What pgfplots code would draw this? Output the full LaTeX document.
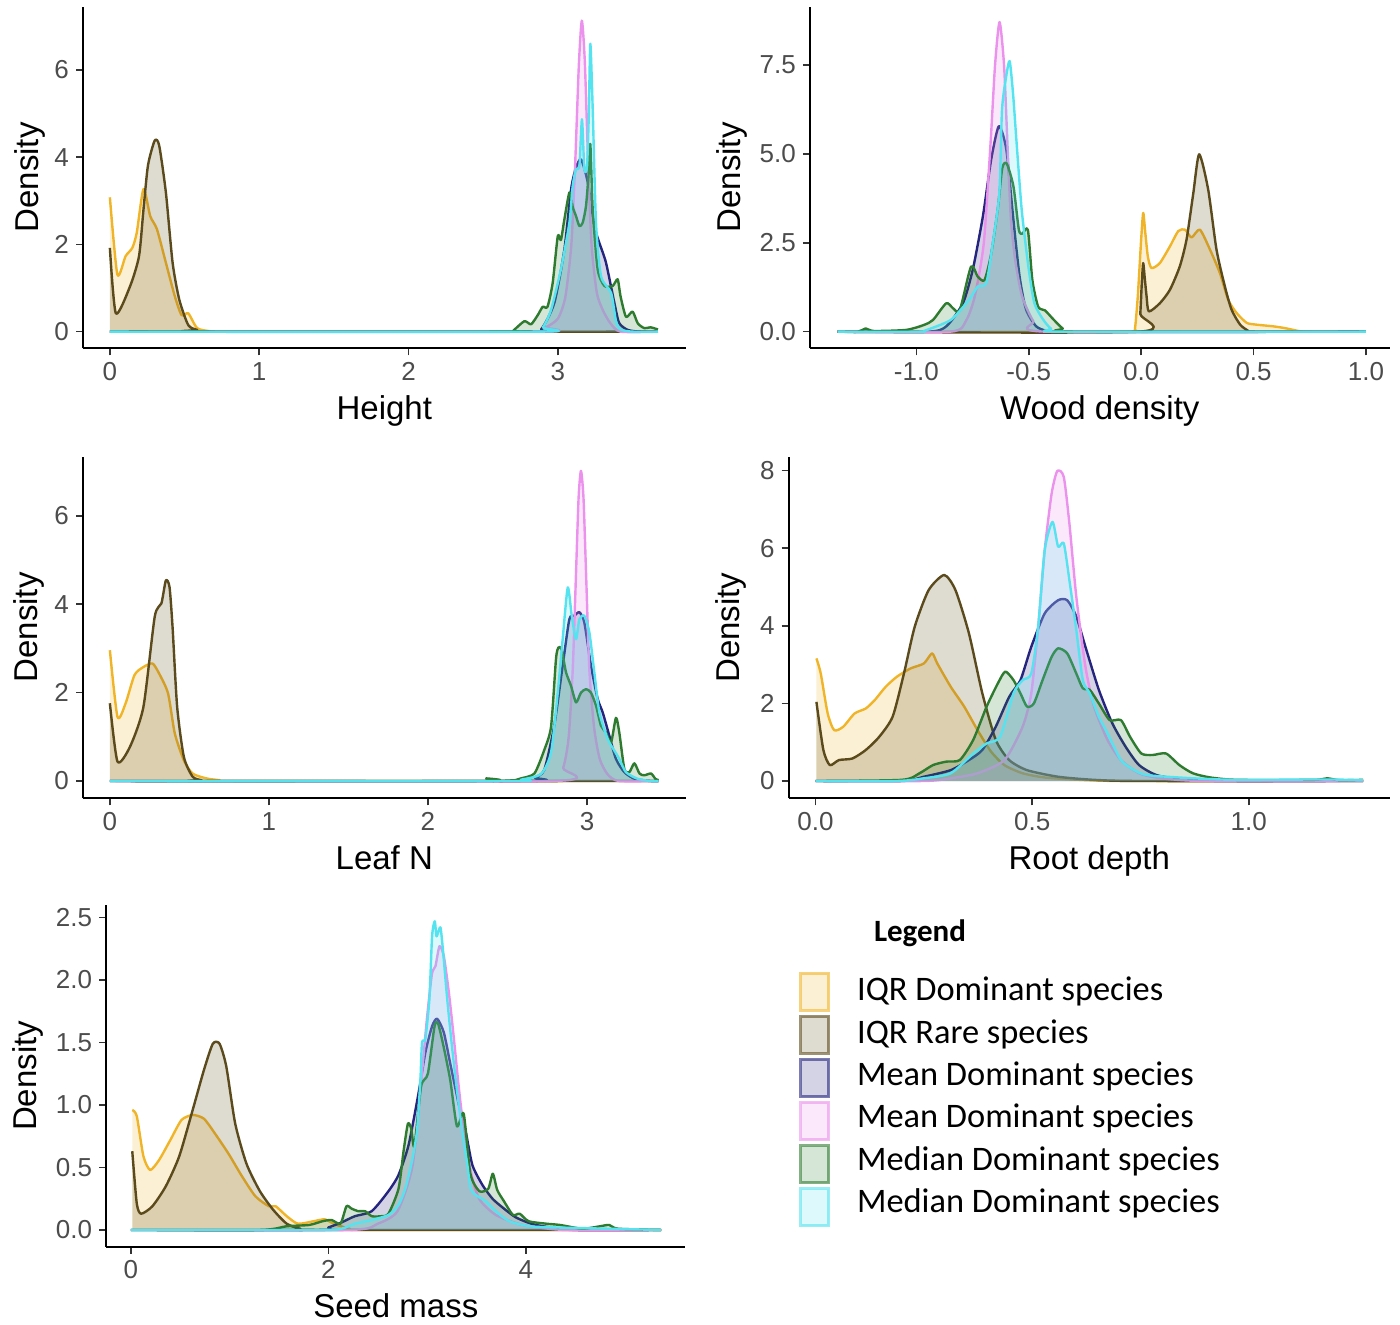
\documentclass[border=0pt]{standalone}
\usepackage{pgfplots}
\pgfplotsset{compat=1.18}
\usepackage{pgfplotstable}
\usepackage{fontspec}
\setmainfont{Liberation Sans}
\newfontfamily\calibri{Carlito}

\definecolor{cY}{HTML}{F0B429}
\definecolor{cO}{HTML}{5B4A1B}
\definecolor{cN}{HTML}{25257F}
\definecolor{cP}{HTML}{EA92EC}
\definecolor{cG}{HTML}{2E7B30}
\definecolor{cC}{HTML}{55E3F0}

% ---------------- Height ----------------
\pgfplotstableread{
x y
0 3.08
0.05 1.31
0.105 1.73
0.15 1.92
0.18 2.27
0.225 3.27
0.27 2.65
0.315 2.35
0.375 1.58
0.435 0.81
0.48 0.38
0.525 0.42
0.585 0.08
0.675 0.01
0.8 0
3.67 0
}\HtY
\pgfplotstableread{
x y
0 1.92
0.04 0.42
0.135 1.04
0.195 1.73
0.225 2.8
0.255 3.81
0.30 4.38
0.33 4.27
0.375 3.19
0.42 1.58
0.465 0.73
0.525 0.15
0.585 0.04
0.645 0
3.67 0
}\HtO
\pgfplotstableread{
x y
0 0
2.80 0
2.887 0.05
2.976 0.66
3.043 1.88
3.088 3.26
3.12 3.75
3.155 3.95
3.20 3.42
3.244 2.42
3.277 2.04
3.322 1.58
3.378 0.66
3.41 0.2
3.468 0.04
3.55 0
3.67 0
}\HtN
\pgfplotstableread{
x y
0 0
2.85 0
2.92 0.1
3.0 0.3
3.05 0.8
3.09 2.0
3.115 3.8
3.14 6.1
3.16 7.13
3.18 6.2
3.203 3.8
3.225 2.0
3.26 0.9
3.30 0.5
3.35 0.2
3.42 0
3.67 0
}\HtP
\pgfplotstableread{
x y
0 0
2.68 0
2.70 0.02
2.775 0.24
2.82 0.17
2.865 0.38
2.898 0.57
2.93 0.57
2.965 1.12
2.999 2.19
3.02 2.1
3.043 2.57
3.077 3.19
3.10 2.85
3.121 2.65
3.144 2.42
3.166 2.5
3.188 2.88
3.205 3.6
3.217 4.3
3.233 2.8
3.266 1.43
3.311 1.05
3.367 1.05
3.40 1.2
3.42 0.8
3.456 0.34
3.50 0.46
3.535 0.19
3.579 0.08
3.62 0.1
3.67 0.05
}\HtG
\pgfplotstableread{
x y
0 0
2.85 0
2.90 0.1
2.954 0.5
3.02 1.43
3.077 2.5
3.099 3.34
3.121 3.72
3.144 3.8
3.161 4.87
3.177 3.72
3.195 3.8
3.207 5.0
3.217 6.6
3.233 5.1
3.255 2.5
3.289 1.27
3.356 0.89
3.389 0.24
3.42 0.05
3.5 0
3.67 0
}\HtC

% ---------------- Wood density ----------------
\pgfplotstableread{
x y
-1.35 0
-0.04 0
-0.028 0.06
-0.015 1.0
0.0 2.6
0.009 3.34
0.018 2.8
0.03 2.1
0.046 1.79
0.083 1.93
0.128 2.4
0.165 2.83
0.195 2.87
0.224 2.65
0.261 2.87
0.306 2.31
0.35 1.65
0.387 0.9
0.424 0.53
0.469 0.25
0.51 0.2
0.588 0.15
0.64 0.1
0.70 0.02
0.75 0
1.0 0
}\WdY
\pgfplotstableread{
x y
-1.35 0
-0.012 0
-0.004 0.5
0.003 1.4
0.009 1.93
0.016 1.5
0.024 1.0
0.034 0.57
0.083 0.8
0.128 1.18
0.172 1.84
0.202 2.6
0.232 3.9
0.258 4.99
0.298 4.0
0.335 2.31
0.372 1.28
0.402 0.62
0.44 0.2
0.475 0.03
0.5 0
1.0 0
}\WdO
\pgfplotstableread{
x y
-1.35 0
-0.95 0
-0.867 0.15
-0.793 0.8
-0.749 1.75
-0.704 3.25
-0.667 4.85
-0.633 5.78
-0.60 5.13
-0.57 3.25
-0.541 1.56
-0.512 0.62
-0.467 0.15
-0.42 0.02
-0.38 0
1.0 0
}\WdN
\pgfplotstableread{
x y
-1.35 0
-0.85 0
-0.78 0.3
-0.74 1.0
-0.70 2.5
-0.67 5.3
-0.65 7.5
-0.63 8.71
-0.61 7.5
-0.595 5.3
-0.58 3.2
-0.56 2.0
-0.53 1.0
-0.48 0.3
-0.42 0
1.0 0
}\WdP
\pgfplotstableread{
x y
-1.35 0
-1.26 0
-1.225 0.09
-1.19 0.02
-1.046 0.05
-0.966 0.19
-0.926 0.33
-0.867 0.8
-0.837 0.66
-0.807 0.6
-0.757 1.83
-0.727 1.55
-0.697 1.45
-0.667 2.2
-0.637 3.5
-0.618 4.6
-0.598 4.73
-0.568 4.08
-0.544 2.86
-0.528 2.76
-0.504 2.86
-0.484 1.45
-0.458 0.7
-0.428 0.6
-0.388 0.33
-0.349 0.09
-0.309 0
1.0 0
}\WdG
\pgfplotstableread{
x y
-1.35 0
-0.98 0
-0.966 0.02
-0.847 0.33
-0.767 0.89
-0.727 1.27
-0.689 1.37
-0.66 2.5
-0.631 3.9
-0.619 6.25
-0.60 7.2
-0.585 7.61
-0.57 6.7
-0.554 5.3
-0.531 3.4
-0.50 1.75
-0.475 0.8
-0.437 0.35
-0.40 0.08
-0.35 0
1.0 0
}\WdC

% ---------------- Leaf N ----------------
\pgfplotstableread{
x y
0 2.96
0.048 1.45
0.099 1.76
0.155 2.4
0.211 2.58
0.268 2.66
0.31 2.43
0.366 1.98
0.408 1.08
0.465 0.47
0.52 0.17
0.606 0.06
0.69 0.02
0.8 0
3.45 0
}\LfY
\pgfplotstableread{
x y
0 1.76
0.048 0.44
0.127 0.78
0.211 1.68
0.282 3.72
0.324 4.02
0.352 4.54
0.375 4.39
0.394 3.49
0.423 1.68
0.465 0.55
0.52 0.1
0.577 0.02
0.65 0
3.45 0
}\LfO
\pgfplotstableread{
x y
0 0
2.6 0
2.67 0.08
2.731 0.25
2.794 1.25
2.847 2.61
2.889 3.66
2.92 3.74
2.952 3.82
2.983 3.59
3.025 2.61
3.067 1.86
3.099 1.55
3.14 1.03
3.182 0.5
3.235 0.2
3.30 0.05
3.4 0
3.45 0
}\LfN
\pgfplotstableread{
x y
0 0
2.78 0
2.85 0.3
2.885 1.0
2.91 2.5
2.93 4.6
2.947 6.4
2.962 7.02
2.978 6.4
2.995 4.6
3.015 2.5
3.045 1.2
3.08 0.5
3.13 0.15
3.2 0
3.45 0
}\LfP
\pgfplotstableread{
x y
0 0
2.33 0
2.366 0.06
2.40 0
2.55 0.02
2.585 0.06
2.669 0.17
2.731 0.7
2.774 1.23
2.805 2.76
2.82 3.02
2.84 2.98
2.868 2.46
2.899 2.16
2.931 1.78
2.962 2.0
2.994 2.08
3.025 2.0
3.057 1.7
3.088 1.25
3.119 1.1
3.151 0.87
3.182 1.43
3.203 1.1
3.235 0.27
3.266 0.2
3.298 0.4
3.33 0.17
3.36 0.13
3.403 0.17
3.43 0.05
3.45 0.02
}\LfG
\pgfplotstableread{
x y
0 0
2.5 0
2.585 0.03
2.711 0.16
2.774 0.65
2.816 2.0
2.847 3.21
2.879 4.38
2.904 3.74
2.931 3.21
2.952 3.66
2.983 3.74
3.015 3.36
3.046 2.46
3.078 1.55
3.13 0.95
3.172 0.69
3.203 0.5
3.245 0.2
3.319 0.05
3.4 0
3.45 0
}\LfC

% ---------------- Root depth ----------------
\pgfplotstableread{
x y
0.002 3.16
0.012 2.77
0.028 1.74
0.043 1.31
0.064 1.4
0.09 1.74
0.116 1.87
0.137 2.09
0.162 2.43
0.188 2.69
0.219 2.9
0.25 3.03
0.269 3.29
0.281 3.03
0.312 2.43
0.343 1.92
0.374 1.31
0.405 0.76
0.436 0.41
0.478 0.2
0.53 0.09
0.61 0.03
0.72 0
1.264 0
}\RtY
\pgfplotstableread{
x y
0.002 2.04
0.018 0.8
0.033 0.41
0.054 0.54
0.085 0.58
0.116 0.8
0.147 1.14
0.178 1.66
0.204 2.77
0.229 3.98
0.261 4.92
0.297 5.31
0.323 4.92
0.354 3.81
0.385 2.26
0.416 1.06
0.447 0.54
0.488 0.28
0.56 0.11
0.643 0.03
0.75 0
1.264 0
}\RtO
\pgfplotstableread{
x y
0 0
0.2 0
0.25 0.11
0.312 0.28
0.354 0.54
0.385 0.8
0.416 1.4
0.447 2.17
0.473 2.6
0.498 3.46
0.529 4.32
0.56 4.66
0.581 4.66
0.602 4.24
0.623 3.46
0.654 2.35
0.685 1.49
0.716 0.88
0.747 0.41
0.788 0.15
0.85 0.04
0.95 0
1.264 0
}\RtN
\pgfplotstableread{
x y
0 0
0.25 0
0.312 0.07
0.374 0.2
0.436 0.54
0.478 1.4
0.498 2.26
0.514 3.98
0.529 5.95
0.545 7.41
0.558 7.99
0.573 7.84
0.586 6.64
0.602 4.75
0.623 2.95
0.643 1.92
0.674 1.06
0.705 0.54
0.747 0.2
0.798 0.07
0.9 0
1.264 0
}\RtP
\pgfplotstableread{
x y
0 0
0.199 0.03
0.24 0.2
0.271 0.41
0.302 0.5
0.333 0.54
0.364 1.06
0.395 1.92
0.421 2.52
0.438 2.82
0.457 2.6
0.473 2.26
0.488 1.92
0.504 2.0
0.524 2.6
0.545 3.2
0.56 3.42
0.581 3.29
0.602 2.77
0.617 2.39
0.633 2.35
0.654 2.0
0.679 1.57
0.705 1.57
0.726 1.14
0.752 0.71
0.778 0.67
0.809 0.71
0.84 0.41
0.871 0.2
0.912 0.09
0.974 0.03
1.15 0.03
1.181 0.07
1.21 0.02
1.264 0.03
}\RtG
\pgfplotstableread{
x y
0 0
0.188 0
0.25 0.07
0.312 0.2
0.364 0.71
0.395 0.97
0.426 1.14
0.457 2.26
0.478 2.6
0.498 2.77
0.514 3.98
0.529 5.95
0.547 6.68
0.56 6.04
0.573 6.13
0.586 5.18
0.602 3.89
0.617 2.6
0.633 2.26
0.654 1.66
0.674 1.23
0.705 0.54
0.736 0.28
0.767 0.15
0.871 0.07
0.974 0.03
1.18 0.04
1.264 0.02
}\RtC

% ---------------- Seed mass ----------------
\pgfplotstableread{
x y
0.014 0.96
0.06 0.91
0.127 0.59
0.195 0.48
0.286 0.56
0.4 0.72
0.513 0.88
0.626 0.92
0.74 0.89
0.853 0.77
0.989 0.61
1.125 0.43
1.261 0.27
1.397 0.19
1.466 0.19
1.579 0.11
1.692 0.05
1.851 0.07
1.964 0.085
2.055 0.05
2.214 0.01
2.4 0
5.37 0
}\SdY
\pgfplotstableread{
x y
0.014 0.63
0.06 0.21
0.104 0.13
0.218 0.19
0.354 0.35
0.49 0.59
0.626 0.96
0.74 1.28
0.83 1.49
0.898 1.49
0.966 1.31
1.057 0.85
1.171 0.53
1.307 0.31
1.443 0.16
1.579 0.05
1.715 0.01
1.9 0
5.37 0
}\SdO
\pgfplotstableread{
x y
0 0
1.9 0
2.0 0.02
2.133 0.06
2.268 0.11
2.439 0.15
2.609 0.31
2.711 0.44
2.813 0.68
2.915 1.1
2.983 1.42
3.051 1.63
3.102 1.69
3.17 1.58
3.238 1.32
3.323 1.0
3.391 0.79
3.459 0.52
3.561 0.36
3.663 0.25
3.765 0.18
3.901 0.1
4.105 0.04
4.5 0
5.37 0
}\SdN
\pgfplotstableread{
x y
0 0
2.2 0
2.5 0.05
2.70 0.15
2.85 0.5
2.93 1.1
3.0 1.7
3.05 2.05
3.085 2.11
3.126 2.27
3.17 2.19
3.221 1.9
3.272 1.53
3.323 1.13
3.374 0.79
3.442 0.47
3.527 0.25
3.697 0.12
3.97 0.04
4.4 0
5.37 0
}\SdP
\pgfplotstableread{
x y
0 0
1.307 0
1.579 0.03
1.806 0.04
1.942 0.07
2.033 0.08
2.123 0.05
2.184 0.19
2.237 0.17
2.305 0.15
2.373 0.15
2.441 0.11
2.532 0.11
2.609 0.13
2.711 0.33
2.762 0.63
2.806 0.85
2.84 0.81
2.872 0.67
2.94 1.15
3.008 1.25
3.076 1.63
3.112 1.65
3.167 1.47
3.235 1.2
3.303 0.83
3.371 0.93
3.439 0.45
3.53 0.31
3.62 0.33
3.666 0.45
3.711 0.32
3.779 0.23
3.87 0.12
3.938 0.13
4.029 0.07
4.21 0.05
4.347 0.04
4.574 0.01
4.755 0.03
4.846 0.04
4.936 0.01
5.37 0
}\SdG
\pgfplotstableread{
x y
0 0
1.9 0
2.133 0.01
2.268 0.05
2.439 0.08
2.609 0.12
2.711 0.2
2.779 0.33
2.847 0.55
2.898 0.79
2.932 1.19
2.949 1.5
2.983 1.53
3.024 1.85
3.051 2.35
3.078 2.47
3.095 2.35
3.112 2.38
3.136 2.42
3.16 2.25
3.204 1.85
3.255 1.45
3.306 1.1
3.357 0.79
3.408 0.52
3.442 0.33
3.493 0.28
3.595 0.23
3.697 0.15
3.834 0.07
4.038 0.03
4.31 0.02
5.37 0
}\SdC

\newcommand{\dens}[2]{%
  \addplot[draw=none, fill=#1, fill opacity=0.2, smooth, tension=0.4] table[x index=0, y index=1] {#2} \closedcycle;
  \addplot[draw=#1, line width=1.2pt, line join=round, smooth, tension=0.4] table[x index=0, y index=1] {#2};
}
\newcommand{\allsix}[6]{\dens{cY}{#1}\dens{cO}{#2}\dens{cN}{#3}\dens{cP}{#4}\dens{cG}{#5}\dens{cC}{#6}}

\newcommand{\labfont}{\fontsize{16.5}{16.5}\selectfont}
\pgfplotsset{
  dens/.style={
    scale only axis,
    axis lines=left,
    axis line style={-, line width=1pt, black},
    tick align=outside,
    major tick length=3.5pt,
    tick style={line width=0.8pt, color=black!80},
    ticklabel style={font=\fontsize{13}{13}\selectfont, text=black!70},
    every axis x label/.style={at={([yshift=-35.5pt]axis description cs:0.5,0)}, anchor=base, font=\labfont},
    ylabel={Density},
    scaled ticks=false,
    anchor=south west,
  },
  ylab/.style={every axis y label/.style={at={([xshift=-#1]axis description cs:0,0.5)}, rotate=90, anchor=base, font=\labfont}},
}

\begin{document}
\begin{tikzpicture}
\path[use as bounding box] (0,0) rectangle (700pt,662pt);

% Height
\begin{axis}[dens, ylab=22.5pt, at={(41.5pt,487.85pt)}, width=301.3pt, height=170.8pt,
  xmin=-0.18, xmax=3.855, ymin=-0.381, ymax=7.45,
  xtick={0,1,2,3}, xticklabels={0,1,2,3},
  ytick={0,2,4,6}, yticklabels={0,2,4,6},
  xlabel={Height}]
\allsix{\HtY}{\HtO}{\HtN}{\HtP}{\HtG}{\HtC}
\end{axis}

% Wood density
\begin{axis}[dens, ylab=34.5pt, at={(404.9pt,487.85pt)}, width=290pt, height=170.8pt,
  xmin=-1.474, xmax=1.106, ymin=-0.467, ymax=9.14,
  xtick={-1,-0.5,0,0.5,1}, xticklabels={-1.0,-0.5,0.0,0.5,1.0},
  ytick={0,2.5,5,7.5}, yticklabels={0.0,2.5,5.0,7.5},
  xlabel={Wood density}]
\allsix{\WdY}{\WdO}{\WdN}{\WdP}{\WdG}{\WdC}
\end{axis}

% Leaf N
\begin{axis}[dens, ylab=22.5pt, at={(41.5pt,262.85pt)}, width=301.3pt, height=170.8pt,
  xmin=-0.169, xmax=3.62, ymin=-0.391, ymax=7.34,
  xtick={0,1,2,3}, xticklabels={0,1,2,3},
  ytick={0,2,4,6}, yticklabels={0,2,4,6},
  xlabel={Leaf N}]
\allsix{\LfY}{\LfO}{\LfN}{\LfP}{\LfG}{\LfC}
\end{axis}

% Root depth
\begin{axis}[dens, ylab=24.5pt, at={(394.35pt,262.85pt)}, width=300.6pt, height=170.8pt,
  xmin=-0.062, xmax=1.326, ymin=-0.446, ymax=8.36,
  xtick={0,0.5,1}, xticklabels={0.0,0.5,1.0},
  ytick={0,2,4,6,8}, yticklabels={0,2,4,6,8},
  xlabel={Root depth}]
\allsix{\RtY}{\RtO}{\RtN}{\RtP}{\RtG}{\RtC}
\end{axis}

% Seed mass
\begin{axis}[dens, ylab=35pt, at={(53.1pt,38.65pt)}, width=289.6pt, height=170.85pt,
  xmin=-0.25, xmax=5.617, ymin=-0.134, ymax=2.6,
  xtick={0,2,4}, xticklabels={0,2,4},
  ytick={0,0.5,1,1.5,2,2.5}, yticklabels={0.0,0.5,1.0,1.5,2.0,2.5},
  xlabel={Seed mass}]
\allsix{\SdY}{\SdO}{\SdN}{\SdP}{\SdG}{\SdC}
\end{axis}

% Legend
\node[font=\calibri\bfseries\fontsize{15.5}{15.5}\selectfont, anchor=center] at (460pt,195.35pt) {Legend};
\foreach \c/\t [count=\i from 0] in {cY/IQR Dominant species, cO/IQR Rare species, cN/Mean Dominant species, cP/Mean Dominant species, cG/Median Dominant species, cC/Median Dominant species}{
  \pgfmathsetmacro{\top}{(1324-(971.7+43.1*\i))/2}
  \pgfmathsetmacro{\mid}{(1324-(991.7+42.3*\i))/2}
  \fill[\c, opacity=0.2] (400.4pt,\top pt-19.3pt) rectangle (414.3pt,\top pt-0.7pt);
  \draw[\c, draw opacity=0.6, line width=1.4pt] (400.4pt,\top pt-19.3pt) rectangle (414.3pt,\top pt-0.7pt);
  \node[font=\calibri\fontsize{17.2}{17.2}\selectfont, anchor=west, inner sep=0pt] at (428.35pt,\mid pt) {\t};
}
\end{tikzpicture}
\end{document}
